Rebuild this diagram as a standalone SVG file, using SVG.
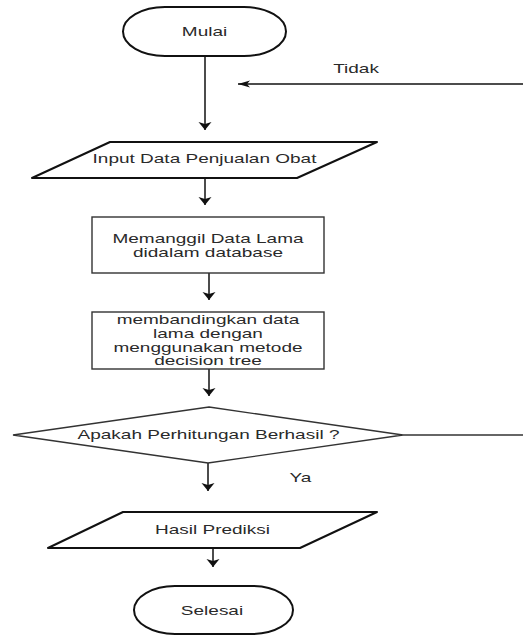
<svg xmlns="http://www.w3.org/2000/svg" width="523" height="635" viewBox="0 0 523 635">
<style>
  .bg{fill:#ffffff}
  .term{fill:#ffffff;stroke:#111;stroke-width:2}
  .io{fill:#ffffff;stroke:#111;stroke-width:2;stroke-linejoin:round}
  .proc{fill:#ffffff;stroke:#333;stroke-width:1.4}
  .dec{fill:#ffffff;stroke:#333;stroke-width:1.3}
  .conn{fill:none;stroke:#111;stroke-width:1.5}
  .plain{fill:none;stroke:#333;stroke-width:1.3}
  text{font-family:"Liberation Sans",Arial,sans-serif;font-size:12.5px;fill:#2a2a2a;text-anchor:middle;dominant-baseline:central}
</style>
<defs>
  <marker id="arrV" markerUnits="userSpaceOnUse" markerWidth="9" markerHeight="13" refX="8" refY="6.5" orient="auto" overflow="visible">
    <path d="M0,0 L8,6.5 L0,13 L2,6.5 Z" fill="#111"/>
  </marker>
  <marker id="arrH" markerUnits="userSpaceOnUse" markerWidth="12" markerHeight="7" refX="12" refY="3.5" orient="auto" overflow="visible">
    <path d="M0,0 L12,3.5 L0,7 L3,3.5 Z" fill="#111"/>
  </marker>
</defs>
<rect class="bg" x="0" y="0" width="523" height="635"/>

<g id="connectors">
  <path class="conn" d="M205,56 V130" marker-end="url(#arrV)"/>
  <path class="conn" d="M523,84 H238" marker-end="url(#arrH)"/>
  <path class="conn" d="M205,178 V205" marker-end="url(#arrV)"/>
  <path class="conn" d="M209,273 V300" marker-end="url(#arrV)"/>
  <path class="conn" d="M209,369 V396" marker-end="url(#arrV)"/>
  <path class="plain" d="M403,435 H523"/>
  <path class="conn" d="M208,463 V491" marker-end="url(#arrV)"/>
  <path class="conn" d="M213,549 V567" marker-end="url(#arrV)"/>
  <text transform="translate(356,68) scale(1.52,1)">Tidak</text>
  <text transform="translate(300.5,477) scale(1.52,1)">Ya</text>
</g>

<g id="mulai">
  <rect class="term" x="123" y="7" width="163" height="49" rx="42" ry="24.5"/>
  <text transform="translate(204.5,31) scale(1.52,1)">Mulai</text>
</g>

<g id="input">
  <path class="io" d="M110,142 H377 L297,178 H32 Z"/>
  <text transform="translate(204.5,158) scale(1.52,1)">Input Data Penjualan Obat</text>
</g>

<g id="memanggil">
  <rect class="proc" x="92" y="217" width="232" height="56"/>
  <text transform="translate(208,0) scale(1.52,1)"><tspan x="0" y="238">Memanggil Data Lama</tspan><tspan x="0" y="252">didalam database</tspan></text>
</g>

<g id="membandingkan">
  <rect class="proc" x="92" y="312" width="232" height="57"/>
  <text transform="translate(208,0) scale(1.52,1)"><tspan x="0" y="319.5">membandingkan data</tspan><tspan x="0" y="333.2">lama dengan</tspan><tspan x="0" y="346.9">menggunakan metode</tspan><tspan x="0" y="360.6">decision tree</tspan></text>
</g>

<g id="keputusan">
  <path class="dec" d="M209,407 L403,435 L208,463 L13,435 Z"/>
  <text transform="translate(208.5,434.5) scale(1.52,1)">Apakah Perhitungan Berhasil ?</text>
</g>

<g id="hasil">
  <path class="io" d="M123,512 H377 L300,548 H48 Z"/>
  <text transform="translate(212.5,529) scale(1.52,1)">Hasil Prediksi</text>
</g>

<g id="selesai">
  <rect class="term" x="134" y="586" width="159" height="48" rx="41" ry="24"/>
  <text transform="translate(212,610.5) scale(1.52,1)">Selesai</text>
</g>
</svg>
